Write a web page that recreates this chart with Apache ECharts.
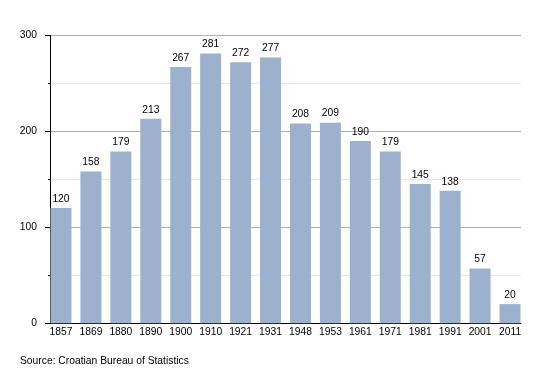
<!DOCTYPE html>
<html><head><meta charset="utf-8">
<script src="https://cdn.jsdelivr.net/npm/echarts@6/dist/echarts.min.js"></script>
<style>html,body{margin:0;padding:0;background:#fff}#c{width:550px;height:373px}</style>
</head><body><div id="c"></div>
<script>
var years = ['1857','1869','1880','1890','1900','1910','1921','1931','1948','1953','1961','1971','1981','1991','2001','2011'];
var population = [120,158,179,213,267,281,272,277,208,209,190,179,145,138,57,20];
var yTicks = [0,100,200,300];
var sourceText = 'Source: Croatian Bureau of Statistics';

var chart = echarts.init(document.getElementById('c'), null, {renderer:'canvas'});
var font = 'Liberation Sans, Arial, sans-serif';
chart.setOption({
  animation:false,
  backgroundColor:'#fff',
  textStyle:{fontFamily:font},
  title:{text:sourceText,left:20,top:356,padding:0,textStyle:{fontFamily:font,fontSize:10.3,fontWeight:'normal',color:'#000'}},
  grid:[
    {left:50,right:29,top:35.3,bottom:49.7},
    {left:46,right:25,top:35.3,bottom:49.7}
  ],
  xAxis:[
    {gridIndex:0,type:'category',data:years,axisLine:{lineStyle:{color:'#000',width:1}},axisTick:{show:false},axisLabel:{show:false},splitLine:{show:false}},
    {gridIndex:1,type:'category',data:years,axisLine:{show:false},axisTick:{show:false},
     axisLabel:{interval:0,color:'#000',fontSize:10.3,fontFamily:font,margin:4}}
  ],
  yAxis:[
    {gridIndex:0,type:'value',min:0,max:300,interval:100,
     axisLine:{show:true,lineStyle:{color:'#000'}},
     axisTick:{show:true,length:5,lineStyle:{color:'#000'}},
     minorTick:{show:true,splitNumber:2,length:2,lineStyle:{color:'#000'}},
     axisLabel:{color:'#000',fontSize:10.3,fontFamily:font,margin:13},
     splitLine:{show:true,lineStyle:{color:'#b0b0b0'}},
     minorSplitLine:{show:true,lineStyle:{color:'#e4e4e4'}}},
    {gridIndex:1,type:'value',min:0,max:300,interval:100,show:false,splitLine:{show:false}}
  ],
  series:[{
    type:'bar',xAxisIndex:1,yAxisIndex:1,data:population,barWidth:21,
    itemStyle:{color:'#9bb1cd'},
    label:{show:true,position:'top',distance:4,color:'#000',fontSize:10.3,fontFamily:font}
  }]
});
</script></body></html>
